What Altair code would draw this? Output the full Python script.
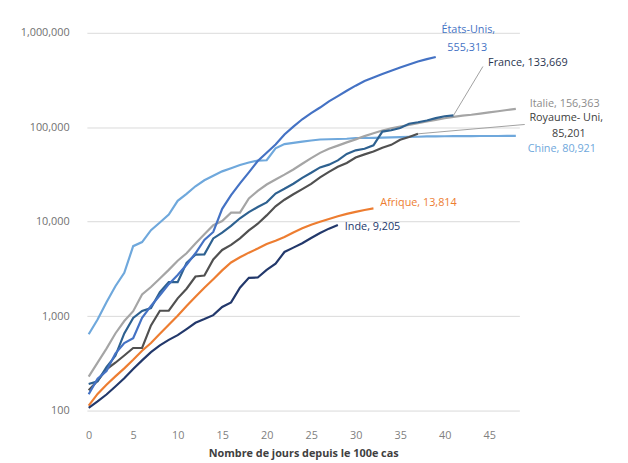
import altair as alt
import pandas as pd

# ---- data (cumulative cases by days since 100th case) ----
chine = [643, 920, 1406, 2075, 2877, 5509, 6087, 8141, 9802, 11891, 16630, 19716,
         23707, 27440, 30587, 34110, 36814, 39829, 42354, 44386, 44759, 59895, 66358,
         68413, 70513, 72434, 74211, 74619, 75077, 75550, 77001, 77022, 77241, 77754,
         78166, 78600, 78928, 79356, 79932, 80136, 80261, 80386, 80537, 80690, 80770,
         80823, 80860, 80887, 80921]
italie = [229, 322, 453, 655, 888, 1128, 1694, 2036, 2502, 3089, 3858, 4636, 5883,
          7375, 9172, 10149, 12462, 12462, 17660, 21157, 24747, 27980, 31506, 35713,
          41035, 47021, 53578, 59138, 63927, 69176, 74386, 80589, 86498, 92472, 97689,
          101739, 105792, 110574, 115242, 119827, 124632, 128948, 132547, 135586,
          139422, 143626, 147577, 152271, 156363]
france = [191, 204, 288, 380, 656, 957, 1134, 1217, 1792, 2289, 2289, 3672, 4480,
          4513, 6650, 7652, 9043, 10871, 12612, 14282, 16018, 19856, 22304, 25233,
          29155, 32964, 37575, 40174, 44550, 52128, 56989, 59105, 64338, 89953, 92839,
          98010, 109069, 112950, 117749, 124869, 130730, 133669]
etats_unis = [149, 217, 262, 402, 518, 583, 959, 1281, 1663, 2179, 2726, 3499, 4632,
              6421, 7786, 13680, 19101, 25493, 33276, 43847, 53740, 65778, 83836,
              101657, 121478, 140886, 161807, 188172, 213372, 243453, 275586, 308850,
              337072, 366667, 396223, 429052, 461437, 496535, 526396, 555313]
royaume_uni = [164, 207, 273, 321, 383, 460, 460, 798, 1140, 1140, 1543, 1950, 2626,
               2689, 3983, 5018, 5683, 6650, 8077, 9529, 11658, 14543, 17089, 19522,
               22141, 25150, 29474, 33718, 38168, 41903, 47806, 51608, 55242, 60733,
               65077, 73758, 78991, 85201]
afrique = [113, 150, 188, 230, 280, 345, 430, 520, 650, 810, 1010, 1280, 1600, 2000,
           2460, 3050, 3700, 4200, 4700, 5200, 5800, 6300, 6900, 7700, 8500, 9300,
           10000, 10700, 11400, 12100, 12700, 13300, 13814]
inde = [107, 125, 148, 180, 220, 275, 340, 415, 490, 560, 630, 730, 850, 930, 1024,
        1251, 1397, 1998, 2543, 2567, 3082, 3588, 4778, 5311, 5916, 6725, 7598, 8446,
        9205]

series_names = ["Chine", "Italie", "Royaume-Uni", "France", "États-Unis", "Afrique", "Inde"]
series_values = [chine, italie, royaume_uni, france, etats_unis, afrique, inde]
series_colors = ["#6fa8dc", "#a5a5a5", "#505050", "#2e6190", "#4472c4", "#ed7d31", "#22386b"]

y_ticks = [100, 1000, 10000, 100000, 1000000]
x_ticks = [0, 5, 10, 15, 20, 25, 30, 35, 40, 45]

rows = []
for name, vals in zip(series_names, series_values):
    for d, v in enumerate(vals):
        rows.append({"jour": d, "cas": v, "pays": name})
df = pd.DataFrame(rows)

FONT = "Open Sans"
xscale = alt.Scale(domain=[-0.2, 48.4], nice=False, zero=False)
yscale = alt.Scale(type="log", domain=[100, 1000000], nice=False)
x_axis = alt.Axis(values=x_ticks, title="Nombre de jours depuis le 100e cas",
                  grid=False, domain=False, ticks=False, labelPadding=19,
                  labelColor="#808080", labelFontSize=11, labelFont=FONT,
                  titleFont=FONT, titleFontSize=11, titleFontWeight="bold",
                  titleColor="#404040", titlePadding=8)
y_axis = alt.Axis(values=y_ticks, format=",", title=None, domain=False,
                  ticks=False, labelPadding=18, labelColor="#707070",
                  labelFontSize=11, labelFont=FONT, gridColor="#d9d9d9",
                  gridWidth=1)

lines = alt.Chart(df).mark_line(strokeWidth=2.2, clip=False).encode(
    x=alt.X("jour:Q", scale=xscale, axis=x_axis),
    y=alt.Y("cas:Q", scale=yscale, axis=y_axis),
    color=alt.Color("pays:N", scale=alt.Scale(domain=series_names, range=series_colors),
                    legend=None),
    order=alt.Order("jour:Q"),
)

# end points for labels
ends = {n: (len(v) - 1, v[-1]) for n, v in zip(series_names, series_values)}


def label(name, text, color, dx, dy, align="left"):
    d, v = ends[name]
    return alt.Chart(pd.DataFrame({"jour": [d], "cas": [v], "t": [text]})).mark_text(
        align=align, baseline="middle", dx=dx, dy=dy, fontSize=11, font=FONT,
        color=color
    ).encode(x=alt.X("jour:Q", scale=xscale, axis=x_axis),
             y=alt.Y("cas:Q", scale=yscale, axis=y_axis), text="t:N")


labels = [
    label("États-Unis", "États-Unis,", "#4472c4", 33, -27, "center"),
    label("États-Unis", "555,313", "#4472c4", 32, -9, "center"),
    label("France", "France, 133,669", "#2a3550", 35, -53),
    label("Italie", "Italie, 156,363", "#8c8c8c", 14, -5),
    label("Royaume-Uni", "Royaume- Uni,", "#404040", 113, -16),
    label("Royaume-Uni", "85,201", "#404040", 153, 0, "center"),
    label("Chine", "Chine, 80,921", "#6fa8dc", 12, 13),
    label("Afrique", "Afrique, 13,814", "#ed7d31", 7, -5),
    label("Inde", "Inde, 9,205", "#22386b", 7, 2),
]

# leader lines (annotation geometry, in data units)
leaders = pd.DataFrame({
    "jour": [ends["France"][0], ends["Royaume-Uni"][0]],
    "cas": [ends["France"][1], ends["Royaume-Uni"][1]],
    "jour2": [44.3, 49.0],
    "cas2": [440000, 107000],
})
leader = alt.Chart(leaders).mark_rule(color="#a0a0a0", strokeWidth=1, clip=False).encode(
    x=alt.X("jour:Q", scale=xscale, axis=x_axis), y=alt.Y("cas:Q", scale=yscale, axis=y_axis),
    x2="jour2:Q", y2="cas2:Q")

chart = alt.layer(lines, leader, *labels).properties(
    width=438.5, height=383,
    autosize=alt.AutoSizeParams(type="none"),
    padding={"left": 80, "top": 22, "right": 102, "bottom": 50},
).configure(background="white").configure_view(strokeWidth=0, stroke=None)

chart.save("out.html", embed_options={"renderer": "svg", "actions": False})
